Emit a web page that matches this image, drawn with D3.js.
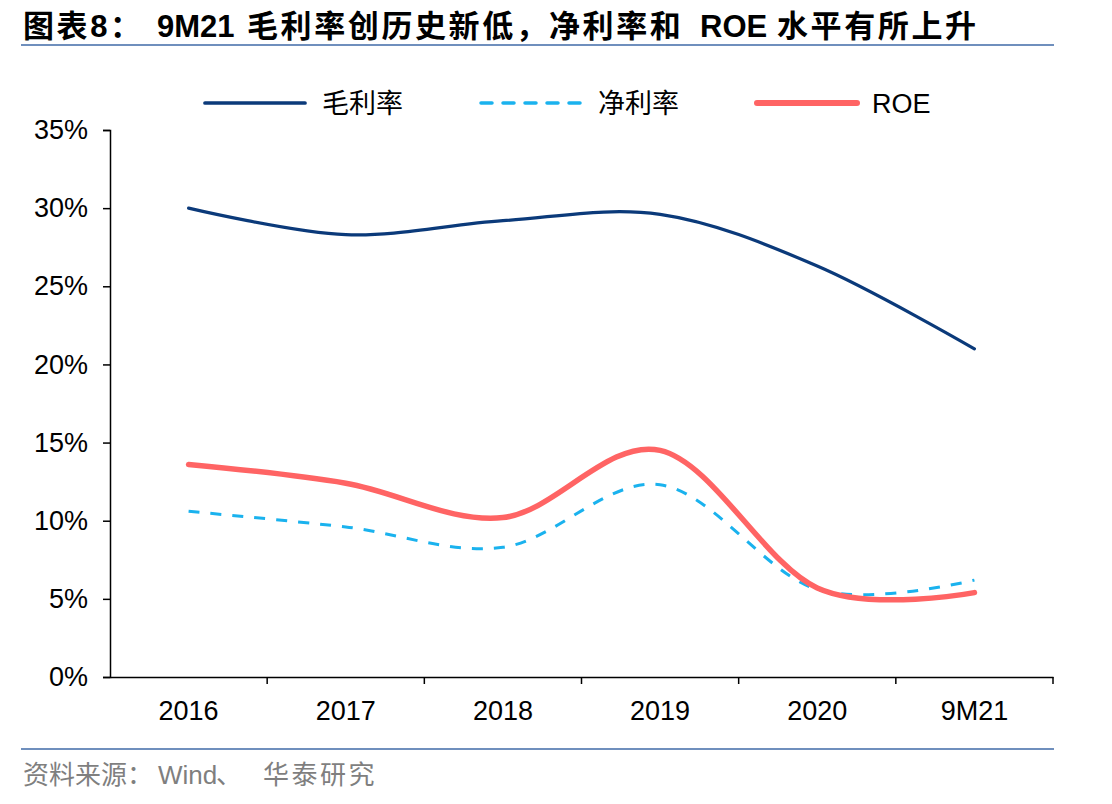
<!DOCTYPE html>
<html>
<head>
<meta charset="utf-8">
<script src="https://cdn.jsdelivr.net/npm/d3@7"></script>
<style>
  body { margin: 0; background: #fff; }
  svg { display: block; }
</style>
</head>
<body>
<div id="chart"></div>
<script>
const categories = ["2016", "2017", "2018", "2019", "2020", "9M21"];
const grossMargin = [30.0, 28.3, 29.2, 29.6, 26.3, 21.0];
const netMargin = [10.6, 9.6, 8.3, 12.3, 5.6, 6.2];
const roe = [13.6, 12.4, 10.2, 14.5, 5.7, 5.4];
const yTicks = [0, 5, 10, 15, 20, 25, 30, 35];

const titleParts = ["图表8：", "9M21", "毛利率创历史新低，", "净利率和", "ROE", "水平有所上升"];
const sourceParts = ["资料来源：", "Wind", "、", "华泰研究"];

const series = [
  {name: "毛利率", values: grossMargin, color: "#0b3a7a", width: 3.2, dash: null},
  {name: "净利率", values: netMargin, color: "#1ab2ee", width: 3, dash: "11,11"},
  {name: "ROE", values: roe, color: "#ff6464", width: 5.5, dash: null}
];

const width = 1112, height = 804;
const margin = {top: 130, right: 59, bottom: 127, left: 110};

const svg = d3.select("#chart").append("svg")
    .attr("width", width)
    .attr("height", height);

const font = "'Liberation Sans', 'Noto Sans CJK SC', sans-serif";

// title
const titleX = [23, 157, 247, 549, 700, 777];
svg.append("text")
    .attr("y", 37)
    .attr("font-family", font)
    .attr("font-weight", "bold")
    .attr("font-size", 31)
    .attr("fill", "#000")
  .selectAll("tspan")
  .data(titleParts)
  .join("tspan")
    .attr("x", (d, i) => titleX[i])
    .attr("letter-spacing", d => /[A-Z0-9]{3}/.test(d) ? 0 : 2.6)
    .text(d => d);

svg.append("line")
    .attr("x1", 21).attr("x2", 1054).attr("y1", 45).attr("y2", 45)
    .attr("stroke", "#6f8fbd").attr("stroke-width", 2);
svg.append("line")
    .attr("x1", 21).attr("x2", 1054).attr("y1", 749).attr("y2", 749)
    .attr("stroke", "#6f8fbd").attr("stroke-width", 2);

// source
const sourceX = [23, 158, 216, 263];
svg.append("text")
    .attr("y", 784)
    .attr("font-family", font)
    .attr("font-size", 26)
    .attr("fill", "#7f7f7f")
  .selectAll("tspan")
  .data(sourceParts)
  .join("tspan")
    .attr("x", (d, i) => sourceX[i])
    .attr("letter-spacing", (d, i) => i === 3 ? 2.5 : 0)
    .text(d => d);

const x = d3.scaleBand()
    .domain(categories)
    .range([margin.left, width - margin.right]);

const y = d3.scaleLinear()
    .domain([0, 35])
    .range([height - margin.bottom, margin.top]);

// y axis
const yAxis = svg.append("g")
    .attr("transform", `translate(${margin.left},0)`)
    .call(d3.axisLeft(y).tickValues(yTicks).tickFormat(d => d + "%").tickSizeOuter(0).tickSize(7).tickPadding(15));

// x axis
const xAxis = svg.append("g")
    .attr("transform", `translate(0,${height - margin.bottom})`)
    .call(d3.axisBottom(x).tickSize(0).tickPadding(24));

// category boundary ticks
xAxis.selectAll(".bound")
    .data(categories)
    .join("line")
    .attr("class", "bound")
    .attr("x1", d => x(d) + x.bandwidth())
    .attr("x2", d => x(d) + x.bandwidth())
    .attr("y1", 0).attr("y2", 7)
    .attr("stroke", "#000").attr("stroke-width", 1.5);

[yAxis, xAxis].forEach(g => {
  g.select(".domain").attr("stroke", "#000").attr("stroke-width", 1.5);
  g.selectAll(".tick line").attr("stroke", "#000").attr("stroke-width", 1.5);
  g.selectAll("text")
      .attr("font-family", "'Liberation Sans', Arial, sans-serif")
      .attr("font-size", 27)
      .attr("fill", "#000");
});

// lines
const line = d3.line()
    .x((d, i) => x(categories[i]) + x.bandwidth() / 2)
    .y(d => y(d))
    .curve(d3.curveCardinal.tension(0));

svg.append("g")
  .selectAll("path")
  .data(series)
  .join("path")
    .attr("d", d => line(d.values))
    .attr("fill", "none")
    .attr("stroke", d => d.color)
    .attr("stroke-width", d => d.width)
    .attr("stroke-dasharray", d => d.dash)
    .attr("stroke-linecap", d => d.dash ? "butt" : "round");

// legend
const legendX = [205, 481, 757];
const legend = svg.append("g")
  .selectAll("g")
  .data(series)
  .join("g")
    .attr("transform", (d, i) => `translate(${legendX[i]},103)`);

legend.append("line")
    .attr("x1", 0).attr("x2", 100)
    .attr("stroke", d => d.color)
    .attr("stroke-width", d => d.width + 0.5)
    .attr("stroke-dasharray", d => d.dash)
    .attr("stroke-linecap", "round");

legend.append("text")
    .attr("x", d => d.name === "ROE" ? 115 : 117)
    .attr("y", 10)
    .attr("font-family", font)
    .attr("font-size", 27)
    .attr("fill", "#000")
    .text(d => d.name);
</script>
</body>
</html>
